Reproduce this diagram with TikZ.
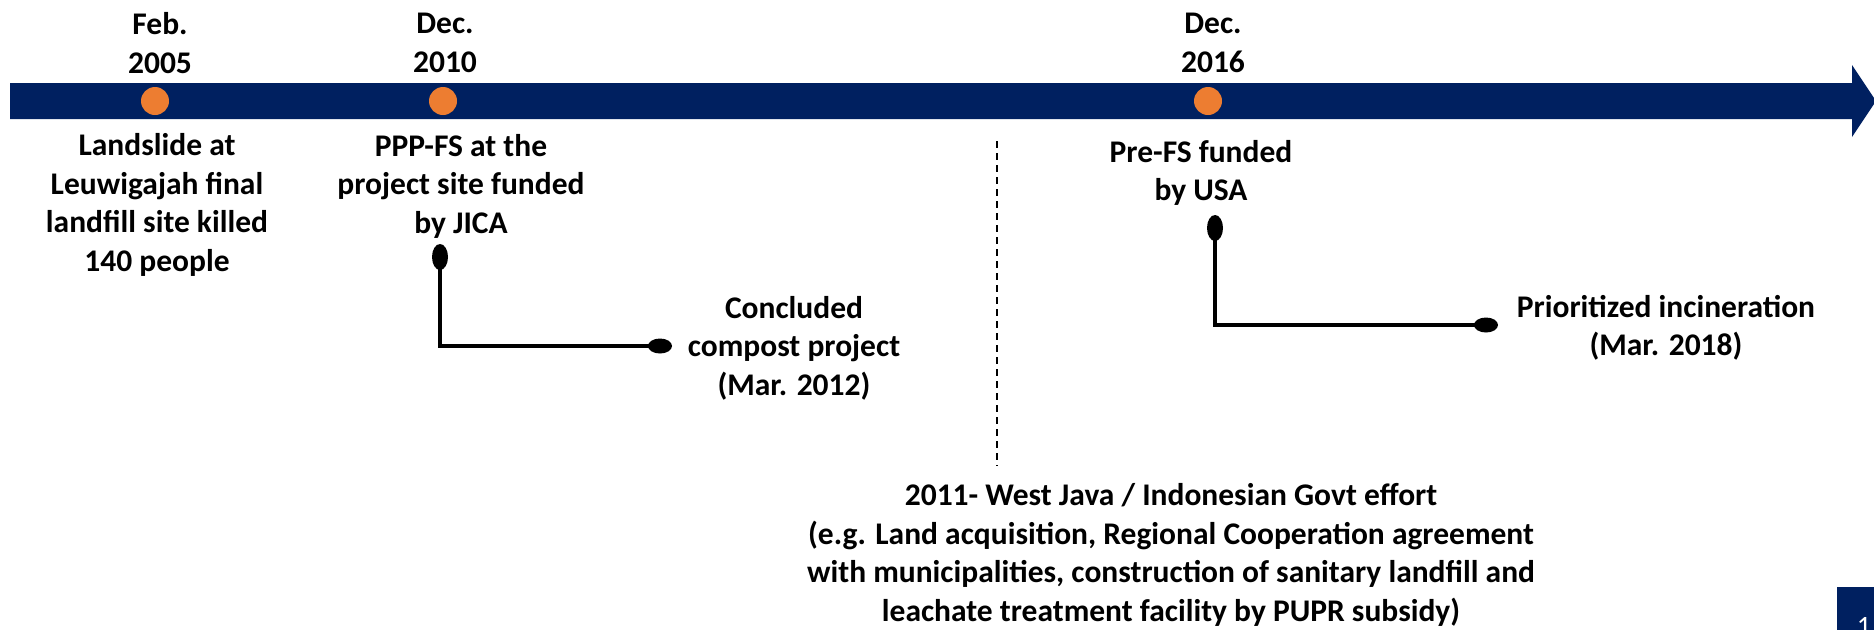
\documentclass[tikz,border=0pt]{standalone}
\usepackage{fontspec}
\setmainfont{Carlito}
\usetikzlibrary{shapes.geometric}
\definecolor{navy}{HTML}{002060}
\definecolor{dotorange}{HTML}{ED7D31}
\tikzset{
  lbl/.style={font=\fontsize{31.5}{38.5}\selectfont\bfseries, align=center, inner sep=0pt, text=black},
  dot/.style={circle, fill=dotorange, minimum size=28pt, inner sep=0pt},
  vend/.style={ellipse, fill=black, minimum width=16pt, minimum height=26pt, inner sep=0pt},
  hend/.style={ellipse, fill=black, minimum width=24pt, minimum height=15pt, inner sep=0pt},
  conn/.style={line width=4pt, black},
  divider/.style={line width=1.3pt, black, dash pattern=on 7pt off 5pt}
}
\begin{document}
\begin{tikzpicture}[x=1pt,y=-1pt]
\useasboundingbox (0,0) rectangle (1874,630);
\clip (0,0) rectangle (1874,630);
% timeline arrow
\fill[navy] (10,83) -- (1852,83) -- (1852,65) -- (1876,101) -- (1852,137) -- (1852,119) -- (10,119) -- cycle;
% dots
\node[dot] (d1) at (155,101) {};
\node[dot] (d2) at (443,101) {};
\node[dot] (d3) at (1208,101) {};
% dates
\node[lbl] (t1) at (160,43) {Feb.\\2005};
\node[lbl] (t2) at (445,43) {Dec.\\2010};
\node[lbl] (t3) at (1213,43) {Dec.\\2016};
% events
\node[lbl] (land) at (157,205) {Landslide at\\Leuwigajah final\\landfill site killed\\140 people};
\node[lbl] (ppp) at (461,186) {PPP-FS at the\\project site funded\\by JICA};
\node[lbl] (concl) at (794,348) {Concluded\\compost project\\(Mar. 2012)};
\node[lbl] (pre) at (1201,173) {Pre-FS funded\\by USA};
\node[lbl] (prio) at (1666,328) {Prioritized incineration\\(Mar. 2018)};
\node[lbl] (govt) at (1171,555) {2011- West Java / Indonesian Govt effort\\(e.g. Land acquisition, Regional Cooperation agreement\\with municipalities, construction of sanitary landfill and\\leachate treatment facility by PUPR subsidy)};
% connector 1
\node[vend] (a1) at (440,257) {};
\node[hend] (b1) at (660,346) {};
\draw[conn] (a1.center) |- (b1.center);
% connector 2
\node[vend] (a2) at (1215,228) {};
\node[hend] (b2) at (1486,325) {};
\draw[conn] (a2.center) |- (b2.center);
% divider
\coordinate (dvtop) at (997,141);
\coordinate (dvbot) at (997,466);
\draw[divider] (dvtop) -- (dvbot);
% page number box
\fill[navy] (1837,587) rectangle (1874,630);
\node[font=\fontsize{28}{34}\selectfont, text=white, inner sep=0pt, anchor=north] (pg) at (1864,617) {1};
\end{tikzpicture}
\end{document}
